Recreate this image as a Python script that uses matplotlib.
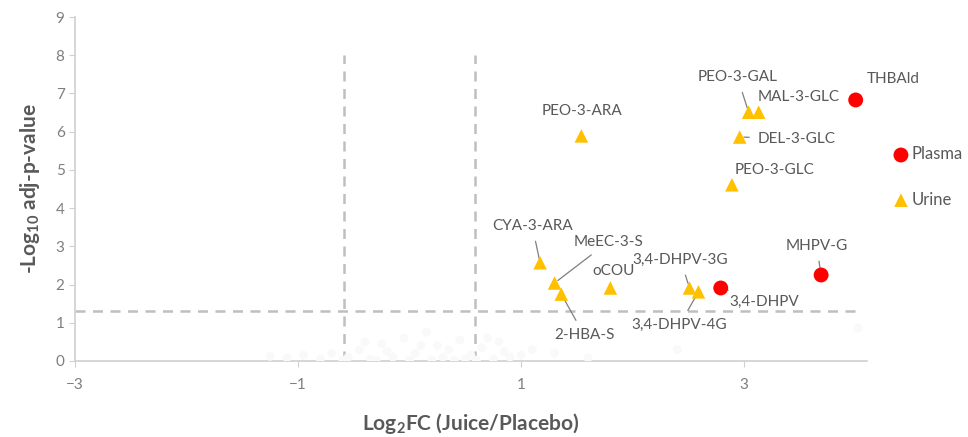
import matplotlib.pyplot as plt

plt.rcParams['font.family'] = ['Lato', 'DejaVu Sans']
plt.rcParams['mathtext.fontset'] = 'custom'
plt.rcParams['mathtext.rm'] = 'Lato'
plt.rcParams['mathtext.bf'] = 'Lato:bold'

# significant metabolites
plasma_names = ["THBAld", "MHPV-G", "3,4-DHPV"]
plasma_x = [4.00, 3.69, 2.79]
plasma_y = [6.83, 2.25, 1.91]

urine_names = ["PEO-3-ARA", "PEO-3-GAL", "MAL-3-GLC", "DEL-3-GLC", "PEO-3-GLC",
               "CYA-3-ARA", "MeEC-3-S", "2-HBA-S", "oCOU", "3,4-DHPV-3G",
               "3,4-DHPV-4G"]
urine_x = [1.54, 3.04, 3.13, 2.96, 2.89, 1.17, 1.30, 1.36, 1.80, 2.51, 2.59]
urine_y = [5.89, 6.51, 6.51, 5.86, 4.61, 2.57, 2.04, 1.75, 1.91, 1.91, 1.81]

# non-significant cloud (barely visible)
ns_x = [-1.25, -1.1, -0.95, -0.8, -0.7, -0.55, -0.45, -0.35, -0.25, -0.15,
        -0.05, 0.05, 0.15, 0.25, 0.35, 0.45, 0.55, 0.65, 0.75, 0.85,
        -0.6, -0.3, 0.0, 0.2, 0.4, 0.6, 0.9, 1.1, 1.3, 1.6,
        -0.2, 0.1, 0.3, 0.5, 0.7, -0.4, 0.8, 1.0, 2.4, 4.02]
ns_y = [0.12, 0.08, 0.15, 0.05, 0.2, 0.1, 0.3, 0.05, 0.45, 0.1,
        0.6, 0.2, 0.75, 0.4, 0.3, 0.55, 0.15, 0.35, 0.05, 0.25,
        0.02, 0.02, 0.02, 0.02, 0.02, 0.02, 0.1, 0.3, 0.2, 0.08,
        0.25, 0.4, 0.1, 0.05, 0.6, 0.5, 0.5, 0.15, 0.3, 0.86]

fc_cut = 0.585
p_cut = 1.30

# label text positions (data coords), alignment, leader line
labels = {
    "THBAld": (4.34, 7.38, "center", False),
    "MHPV-G": (3.65, 3.01, "center", True),
    "3,4-DHPV": (2.87, 1.55, "left", True),
    "PEO-3-ARA": (1.55, 6.53, "center", False),
    "PEO-3-GAL": (2.94, 7.42, "center", True),
    "MAL-3-GLC": (3.49, 6.92, "center", False),
    "DEL-3-GLC": (3.47, 5.82, "center", True),
    "PEO-3-GLC": (3.27, 5.01, "center", False),
    "CYA-3-ARA": (1.10, 3.53, "center", True),
    "MeEC-3-S": (1.47, 3.12, "left", True),
    "2-HBA-S": (1.565, 0.68, "center", True),
    "oCOU": (1.83, 2.36, "center", False),
    "3,4-DHPV-3G": (2.43, 2.64, "center", True),
    "3,4-DHPV-4G": (2.42, 0.94, "center", True),
}

fig = plt.figure(figsize=(9.68, 4.37), dpi=100)
ax = fig.add_axes([0.0775, 0.174, 0.818, 0.787])

gray = "#bfbfbf"
ax.plot([-fc_cut, -fc_cut], [0, 8], ls=(0, (4, 3)), color=gray, lw=1.8, zorder=1)
ax.plot([fc_cut, fc_cut], [0, 8], ls=(0, (4, 3)), color=gray, lw=1.8, zorder=1)
ax.plot([-3, 4.0], [p_cut, p_cut], ls=(0, (4, 3)), color=gray, lw=1.8, zorder=1)

ax.scatter(ns_x, ns_y, s=40, color="#f9f9f9", edgecolor="none", zorder=3)
ax.scatter(urine_x, urine_y, marker="^", s=95, color="#ffc000", edgecolor="none",
           zorder=4, label="Urine")
ax.scatter(plasma_x, plasma_y, marker="o", s=115, color="#ff0000", edgecolor="none",
           zorder=5, label="Plasma")

pts = dict(zip(plasma_names, zip(plasma_x, plasma_y)))
pts.update(dict(zip(urine_names, zip(urine_x, urine_y))))
for name, (tx, ty, ha, line) in labels.items():
    px, py = pts[name]
    if line:
        ax.annotate(name, xy=(px, py), xytext=(tx, ty), ha=ha, va="center",
                    fontsize=11, color="#595959",
                    arrowprops=dict(arrowstyle="-", color="#7f7f7f", lw=0.9,
                                    shrinkA=4, shrinkB=3))
    else:
        ax.text(tx, ty, name, ha=ha, va="center", fontsize=11, color="#595959")

ax.set_xlim(-3, 4.1)
ax.set_ylim(0, 9)
ax.set_xticks([-3, -1, 1, 3])
ax.set_yticks(range(10))
for s in ["top", "right"]:
    ax.spines[s].set_visible(False)
for s in ["left", "bottom"]:
    ax.spines[s].set_color("#d0d0d0")
    ax.spines[s].set_linewidth(1.2)
ax.tick_params(colors="#d0d0d0", labelcolor="#7f7f7f", labelsize=11, length=4)
ax.tick_params(axis="x", pad=8)

ax.set_xlabel("Log$_{\\mathbf{2}}$FC (Juice/Placebo)", fontsize=15, fontweight="bold",
              color="#595959", labelpad=14)
ax.set_ylabel("-Log$_{\\mathbf{10}}$ adj-p-value", fontsize=15, fontweight="bold",
              color="#595959", labelpad=10)

handles, names = ax.get_legend_handles_labels()
ax.legend(handles[::-1], names[::-1], loc="center left", bbox_to_anchor=(1.022, 0.535),
          frameon=False, fontsize=12, labelcolor="#595959", handletextpad=0.05,
          labelspacing=1.75, handlelength=1.2, borderaxespad=0)

fig.savefig("out.png", dpi=100)
